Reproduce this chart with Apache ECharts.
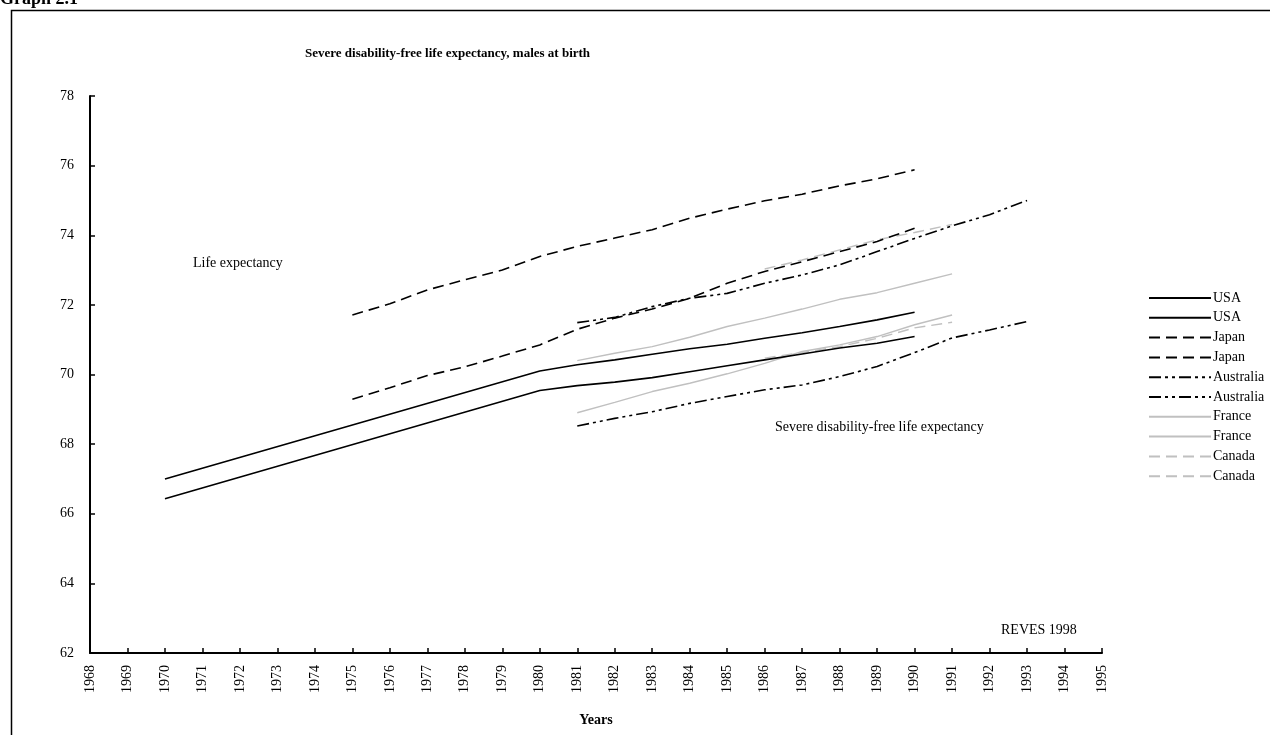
<!DOCTYPE html>
<html><head><meta charset="utf-8">
<script src="https://cdn.jsdelivr.net/npm/echarts@6/dist/echarts.min.js"></script>
<style>html,body{margin:0;padding:0;background:#fff}#c{width:1270px;height:735px}</style>
</head><body><div id="c"></div>
<script>
// ---- data ----
const yTicks = [62, 64, 66, 68, 70, 72, 74, 76, 78];
const xYears = [1968, 1995];

const usaYears = [1970, 1980, 1981, 1982, 1983, 1984, 1985, 1986, 1987, 1988, 1989, 1990];
const usaLE    = [67.0, 70.1, 70.28, 70.42, 70.58, 70.74, 70.87, 71.04, 71.2, 71.38, 71.57, 71.79];
const usaDFLE  = [66.43, 69.54, 69.68, 69.78, 69.91, 70.08, 70.25, 70.42, 70.59, 70.76, 70.9, 71.09];

const japanYears = [1975, 1976, 1977, 1978, 1979, 1980, 1981, 1982, 1983, 1984, 1985, 1986, 1987, 1988, 1989, 1990];
const japanLE    = [71.71, 72.03, 72.43, 72.72, 73.0, 73.39, 73.68, 73.92, 74.16, 74.49, 74.75, 74.99, 75.18, 75.42, 75.62, 75.88];
const japanDFLE  = [69.29, 69.62, 69.97, 70.22, 70.53, 70.85, 71.3, 71.62, 71.88, 72.19, 72.62, 72.96, 73.24, 73.53, 73.82, 74.2];

const ausYears = [1981, 1982, 1983, 1984, 1985, 1986, 1987, 1988, 1989, 1990, 1991, 1992, 1993];
const ausLE    = [71.49, 71.64, 71.95, 72.19, 72.33, 72.62, 72.86, 73.15, 73.53, 73.91, 74.27, 74.59, 75.0];
const ausDFLE  = [68.52, 68.74, 68.93, 69.17, 69.37, 69.56, 69.7, 69.94, 70.23, 70.63, 71.05, 71.28, 71.52];

const fraYears = [1981, 1982, 1983, 1984, 1985, 1986, 1987, 1988, 1989, 1990, 1991];
const fraLE    = [70.4, 70.61, 70.8, 71.07, 71.38, 71.62, 71.88, 72.16, 72.35, 72.62, 72.89];
const fraDFLE  = [68.9, 69.2, 69.51, 69.75, 70.02, 70.32, 70.66, 70.85, 71.09, 71.43, 71.71];

const canYears = [1986, 1987, 1988, 1989, 1990, 1991];
const canLE    = [73.03, 73.29, 73.58, 73.87, 74.08, 74.31];
const canDFLE  = [70.47, 70.63, 70.8, 71.04, 71.34, 71.5];

const legendLabels = ['USA', 'USA', 'Japan', 'Japan', 'Australia', 'Australia', 'France', 'France', 'Canada', 'Canada'];

// ---- chart ----
const FONT = "'Liberation Serif','Times New Roman',serif";
const pairs = (xs, vs) => xs.map((x, i) => [x, vs[i]]);
const BLACK = '#000000', GRAY = '#c0c0c0';
const dashJ = [11, 6];
const dashA = [12, 4, 3, 4, 3, 4];

const defs = [
  [usaYears, usaLE, BLACK, 'solid', 1.6],
  [usaYears, usaDFLE, BLACK, 'solid', 1.6],
  [japanYears, japanLE, BLACK, dashJ, 1.6],
  [japanYears, japanDFLE, BLACK, dashJ, 1.6],
  [ausYears, ausLE, BLACK, dashA, 1.6],
  [ausYears, ausDFLE, BLACK, dashA, 1.6],
  [fraYears, fraLE, GRAY, 'solid', 1.4],
  [fraYears, fraDFLE, GRAY, 'solid', 1.4],
  [canYears, canLE, GRAY, dashJ, 1.4],
  [canYears, canDFLE, GRAY, dashJ, 1.4]
];

const series = defs.map((d, i) => ({
  type: 'line',
  name: legendLabels[i] + '|' + i,
  data: pairs(d[0], d[1]),
  symbol: 'none',
  showSymbol: false,
  smooth: false,
  silent: true,
  lineStyle: { color: d[2], type: d[3], width: d[4] },
  itemStyle: { color: d[2] },
  z: 10 - i
}));

const chart = echarts.init(document.getElementById('c'), null, { renderer: 'canvas' });
chart.setOption({
  animation: false,
  backgroundColor: '#ffffff',
  grid: { left: 90, right: 168, top: 96, bottom: 82, containLabel: false },
  xAxis: {
    type: 'value', min: xYears[0], max: xYears[1], interval: 1,
    name: 'Years', nameLocation: 'middle', nameGap: 60,
    nameTextStyle: { fontFamily: FONT, fontSize: 14, fontWeight: 'bold', color: '#000' },
    axisLine: { lineStyle: { color: '#000', width: 2 } },
    axisTick: { inside: true, length: 5, lineStyle: { color: '#000', width: 1.5 } },
    axisLabel: { rotate: 90, margin: 12, fontFamily: FONT, fontSize: 14, color: '#000',
                 formatter: v => String(v) },
    splitLine: { show: false }
  },
  yAxis: {
    type: 'value', min: yTicks[0], max: yTicks[yTicks.length - 1], interval: 2,
    axisLine: { show: true, lineStyle: { color: '#000', width: 2 } },
    axisTick: { show: true, inside: true, length: 5, lineStyle: { color: '#000', width: 1.5 } },
    axisLabel: { margin: 16, fontFamily: FONT, fontSize: 14, color: '#000' },
    splitLine: { show: false }
  },
  legend: {
    orient: 'vertical', left: 1143, top: 286,
    itemWidth: 62, itemHeight: 14, itemGap: 5.8,
    selectedMode: false,
    itemStyle: { opacity: 0 },
    formatter: n => n.split('|')[0],
    textStyle: { fontFamily: FONT, fontSize: 14, color: '#000', padding: [0, 0, 0, -3] }
  },
  title: {
    text: 'Severe disability-free life expectancy, males at birth',
    left: 300, top: 42,
    textStyle: { fontFamily: FONT, fontSize: 13, fontWeight: 'bold', color: '#000' }
  },
  graphic: [
    { type: 'rect', left: 9, top: 8, shape: { width: 1300, height: 800 },
      style: { fill: 'none', stroke: '#000', lineWidth: 1.5 }, silent: true, z: -1 },
    { type: 'text', left: 0, top: -10,
      style: { text: 'Graph 2.1', font: "bold 18px 'Liberation Serif', serif", fill: '#000' } },
    { type: 'text', left: 193, top: 256,
      style: { text: 'Life expectancy', font: "14px 'Liberation Serif', serif", fill: '#000' } },
    { type: 'text', left: 775, top: 420,
      style: { text: 'Severe disability-free life expectancy', font: "14px 'Liberation Serif', serif", fill: '#000' } },
    { type: 'text', left: 1001, top: 623,
      style: { text: 'REVES 1998', font: "14px 'Liberation Serif', serif", fill: '#000' } }
  ],
  series: series
});
</script></body></html>
